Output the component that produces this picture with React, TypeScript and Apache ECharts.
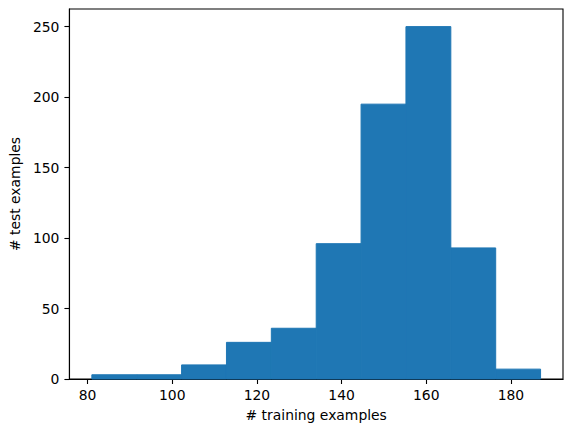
import React, { useEffect, useRef } from "react";
import * as echarts from "echarts";

const binStarts = [81.0, 91.6, 102.2, 112.8, 123.4, 134.0, 144.6, 155.2, 165.8, 176.4];
const binEnds = [91.6, 102.2, 112.8, 123.4, 134.0, 144.6, 155.2, 165.8, 176.4, 187.0];
const counts = [3, 3, 10, 26, 36, 96, 195, 250, 93, 7];
const xTicks = [80, 100, 120, 140, 160, 180];
const yTicks = [0, 50, 100, 150, 200, 250];

export default function App() {
  const ref = useRef<HTMLDivElement>(null);
  useEffect(() => {
    if (!ref.current) return;
    const chart = echarts.init(ref.current, undefined, { renderer: "svg" });
    const font = "DejaVu Sans";
    const data = counts.map((c, i) => [binStarts[i], binEnds[i], c]);
    chart.setOption({
      animation: false,
      grid: {
        left: 66,
        right: 8,
        top: 9,
        bottom: 53,
        show: true,
        borderColor: "#000",
        borderWidth: 1.1,
        backgroundColor: "transparent",
      },
      xAxis: {
        type: "value",
        min: 75.7,
        max: 192.3,
        name: "# training examples",
        nameLocation: "middle",
        nameGap: 29,
        nameTextStyle: { fontFamily: font, fontSize: 13.9, color: "#000" },
        axisLine: { show: true, lineStyle: { color: "#000", width: 1.1 } },
        axisTick: { show: true, length: 5, customValues: xTicks, lineStyle: { color: "#000", width: 1.1 } },
        axisLabel: { customValues: xTicks, margin: 9, fontFamily: font, fontSize: 13.9, color: "#000" },
        splitLine: { show: false },
      },
      yAxis: {
        type: "value",
        min: 0,
        max: 262.5,
        interval: 50,
        name: "# test examples",
        nameLocation: "middle",
        nameGap: 46,
        nameTextStyle: { fontFamily: font, fontSize: 13.9, color: "#000" },
        axisLine: { show: true, lineStyle: { color: "#000", width: 1.1 } },
        axisTick: { show: true, length: 5, customValues: yTicks, lineStyle: { color: "#000", width: 1.1 } },
        axisLabel: { customValues: yTicks, margin: 10, fontFamily: font, fontSize: 13.9, color: "#000" },
        splitLine: { show: false },
      },
      series: [
        {
          type: "custom",
          data,
          renderItem: (params: any, api: any) => {
            const x0 = api.value(0);
            const x1 = api.value(1);
            const y = api.value(2);
            const p0 = api.coord([x0, 0]);
            const p1 = api.coord([x1, y]);
            return {
              type: "rect",
              shape: { x: p0[0], y: p1[1], width: p1[0] - p0[0], height: p0[1] - p1[1] },
              style: { fill: "#1f77b4", stroke: "#1f77b4", lineWidth: 1 },
            };
          },
          encode: { x: [0, 1], y: 2 },
        },
      ],
    });
    return () => chart.dispose();
  }, []);
  return (
    <div
      ref={ref}
      style={{ position: "fixed", left: 0, top: 0, width: 571, height: 432, background: "#fff" }}
    />
  );
}
